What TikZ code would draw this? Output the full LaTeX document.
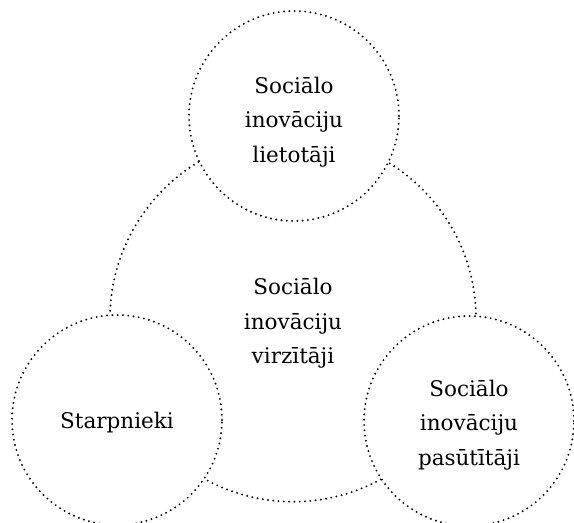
\documentclass[tikz,border=0pt]{standalone}
\usepackage{fontspec}
\setmainfont{DejaVu Serif}
\tikzset{
  dotline/.style={line width=2.1pt, line cap=round, dash pattern=on 0pt off 5.3pt},
  actor/.style={circle, dotline, draw, fill=white, minimum size=210pt, inner sep=0pt},
  core/.style={circle, dotline, draw, minimum size=366pt, inner sep=0pt},
  lbl/.style={align=center, inner sep=0pt, font=\fontsize{21.5}{34.5}\selectfont}
}
\begin{document}
\begin{tikzpicture}[x=1pt,y=-1pt]
\useasboundingbox (0,0) rectangle (574,523);
\node[core] (big) at (293,318.7) {};
\node[lbl] (midtxt) at ([yshift=-5pt]big.center) {Sociālo\\inovāciju\\virzītāji};
\node[actor] (top) at (294,116) {};
\node[lbl] (toptxt) at ([yshift=-6pt]top.center) {Sociālo\\inovāciju\\lietotāji};
\node[actor] (left) at (117,420) {};
\node[lbl] (lefttxt) at ([yshift=-3pt]left.center) {Starpnieki};
\node[actor] (right) at (469,421) {};
\node[lbl] (righttxt) at ([yshift=-4pt]right.center) {Sociālo\\inovāciju\\pasūtītāji};
\end{tikzpicture}
\end{document}
